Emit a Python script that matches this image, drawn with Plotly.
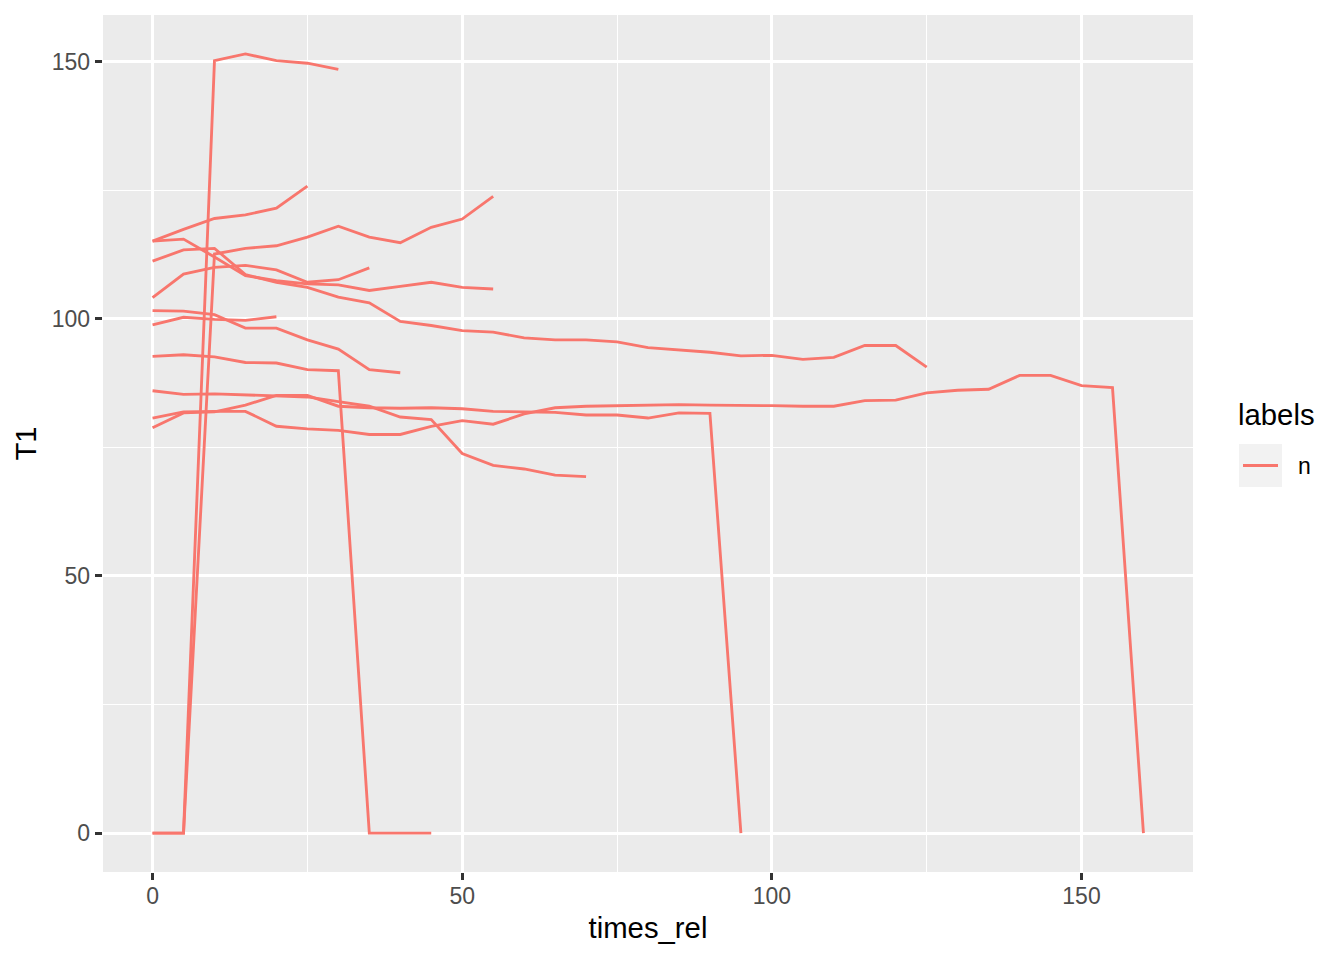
import plotly.graph_objects as go

# ---- data ----
t_J = [0, 5, 10, 15, 20, 25, 30]
v_J = [0, 0, 150.2, 151.5, 150.2, 149.7, 148.5]

t_K = [0, 5, 10, 15, 20, 25, 30, 35, 40, 45, 50, 55]
v_K = [0, 0, 112.6, 113.7, 114.2, 115.9, 118.0, 115.9, 114.8, 117.8, 119.4, 123.8]

t_A = [0, 5, 10, 15, 20, 25]
v_A = [115.1, 117.4, 119.5, 120.2, 121.5, 125.8]

t_B = [0, 5, 10, 15, 20, 25, 30, 35, 40, 45, 50, 55]
v_B = [115.1, 115.5, 112.0, 108.4, 107.4, 106.8, 106.6, 105.5, 106.3, 107.1, 106.1, 105.8]

t_E = [0, 5, 10, 15, 20, 25, 30, 35, 40, 45, 50, 55, 60, 65, 70, 75, 80, 85, 90,
       95, 100, 105, 110, 115, 120, 125]
v_E = [111.2, 113.4, 113.7, 108.6, 107.1, 106.1, 104.2, 103.1, 99.5, 98.7, 97.7, 97.4,
       96.3, 95.9, 95.9, 95.5, 94.4, 94.0, 93.5, 92.8, 92.9, 92.1, 92.5, 94.8, 94.8, 90.6]

t_L = [0, 5, 10, 15, 20, 25, 30, 35]
v_L = [104.1, 108.7, 110.0, 110.4, 109.5, 107.1, 107.6, 109.9]

t_C = [0, 5, 10, 15, 20, 25, 30, 35, 40]
v_C = [101.6, 101.5, 100.8, 98.2, 98.2, 95.9, 94.1, 90.1, 89.5]

t_D = [0, 5, 10, 15, 20]
v_D = [98.8, 100.3, 99.9, 99.7, 100.4]

t_F = [0, 5, 10, 15, 20, 25, 30, 35, 40, 45]
v_F = [92.7, 93.0, 92.6, 91.5, 91.4, 90.1, 89.9, 0, 0, 0]

t_G = [0, 5, 10, 15, 20, 25, 30, 35, 40, 45, 50, 55, 60, 65, 70]
v_G = [86.0, 85.3, 85.4, 85.2, 84.9, 84.8, 83.9, 83.0, 80.9, 80.4, 73.8, 71.5, 70.8, 69.6, 69.3]

t_H = [0, 5, 10, 15, 20, 25, 30, 35, 40, 45, 50, 55, 60, 65, 70, 75, 80, 85, 90, 95]
v_H = [78.8, 81.7, 81.9, 83.2, 85.1, 85.1, 83.0, 82.7, 82.6, 82.7, 82.5, 82.0,
       81.9, 81.8, 81.3, 81.3, 80.7, 81.7, 81.6, 0]

t_I = [0, 5, 10, 15, 20, 25, 30, 35, 40, 45, 50, 55, 60, 65, 70, 75, 80, 85, 90, 95,
       100, 105, 110, 115, 120, 125, 130, 135, 140, 145, 150, 155, 160]
v_I = [80.7, 81.9, 82.0, 82.0, 79.1, 78.6, 78.3, 77.5, 77.5, 79.1, 80.2, 79.5, 81.5,
       82.7, 83.0, 83.1, 83.3, 83.3, 83.2, 83.2, 83.1, 83.0, 83.0, 84.1, 84.2, 85.6,
       86.1, 86.3, 89.0, 89.0, 87.0, 86.6, 0]

x_ticks = [0, 50, 100, 150]
y_ticks = [0, 50, 100, 150]
minor_ticks = [25, 75, 125]
legend_title = "labels"
legend_label = "n"

series = [(t_J, v_J), (t_K, v_K), (t_A, v_A), (t_B, v_B), (t_E, v_E), (t_L, v_L),
          (t_C, v_C), (t_D, v_D), (t_F, v_F), (t_G, v_G), (t_H, v_H), (t_I, v_I)]

LINE_COL = "#F8766D"
FONT = "Liberation Sans, Arial, sans-serif"
LW = 2.85

# panel position on screen (page has an 8px body margin)
OFF = 8
PL, PR, PT, PB = 103, 1193, 15, 872
PW, PH = PR - PL, PB - PT

fig = go.Figure()
for tx, vy in series:
    fig.add_trace(go.Scatter(x=tx, y=vy, mode="lines", name=legend_label,
                             line=dict(color=LINE_COL, width=LW),
                             showlegend=False, hoverinfo="x+y"))

axis_common = dict(
    showgrid=True, gridcolor="white", gridwidth=LW,
    zeroline=False, showline=False,
    ticks="outside", ticklen=7.3, tickwidth=LW, tickcolor="#333333",
    tickfont=dict(family=FONT, size=23, color="#4D4D4D"),
    minor=dict(tickvals=minor_ticks, showgrid=True, gridcolor="white",
               gridwidth=LW / 2, ticks=""),
)

fig.update_xaxes(range=[-8.0, 168.0], tickvals=x_ticks,
                 title=dict(text="times_rel", font=dict(family=FONT, size=29.3, color="black"),
                            standoff=9),
                 ticklabelstandoff=-4, **axis_common)
fig.update_yaxes(range=[-7.575, 159.075], tickvals=y_ticks,
                 title=dict(text="T1", font=dict(family=FONT, size=29.3, color="black"),
                            standoff=6),
                 ticklabelstandoff=0, **axis_common)

# manual ggplot-style legend
def px(x):
    return (x - PL) / PW

def py(y):
    return (PB - y) / PH

fig.add_shape(type="rect", xref="paper", yref="paper",
              x0=px(1239), x1=px(1282), y0=py(487), y1=py(444),
              fillcolor="#F2F2F2", line=dict(width=0))
fig.add_shape(type="line", xref="paper", yref="paper",
              x0=px(1243), x1=px(1278), y0=py(465.5), y1=py(465.5),
              line=dict(color=LINE_COL, width=LW))
fig.add_annotation(text=legend_title, xref="paper", yref="paper",
                   x=px(1236), y=py(414),
                   xanchor="left", yanchor="middle", showarrow=False,
                   font=dict(family=FONT, size=29.3, color="black"))
fig.add_annotation(text=legend_label, xref="paper", yref="paper",
                   x=px(1296), y=py(466),
                   xanchor="left", yanchor="middle", showarrow=False,
                   font=dict(family=FONT, size=23, color="black"))

fig.update_layout(
    width=1344 - OFF, height=960 - OFF,
    margin=dict(l=PL - OFF, r=1344 - PR, t=PT - OFF, b=960 - PB, autoexpand=False),
    plot_bgcolor="#EBEBEB", paper_bgcolor="white",
    showlegend=False,
)

fig.write_html("out.html")
